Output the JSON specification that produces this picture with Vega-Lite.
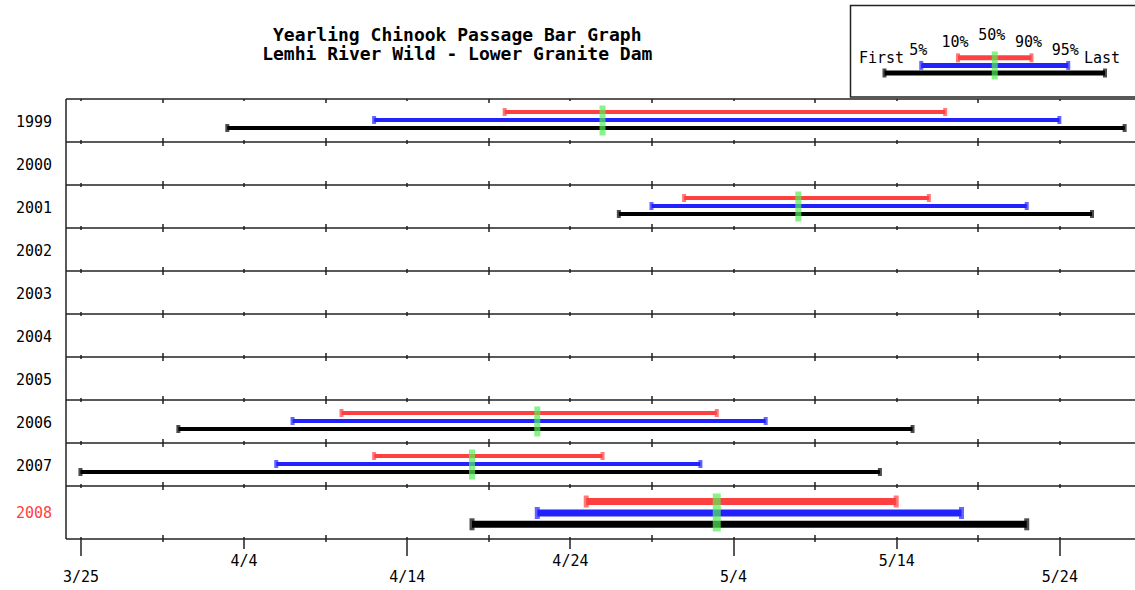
{
  "$schema": "https://vega.github.io/schema/vega-lite/v6.json",
  "padding": {"left": 14.5, "top": 4.5, "right": 0, "bottom": 0},
  "spacing": 0,
  "background": "white",
  "config": {
    "view": {"stroke": null},
    "font": "DejaVu Sans Mono",
    "axis": {"labelFont": "DejaVu Sans Mono", "labelFontSize": 15, "labelColor": "#000000", "domainColor": "#222222", "domainWidth": 1.5, "tickColor": "#222222", "tickWidth": 1.5, "gridColor": "#222222", "gridWidth": 1.5, "gridOpacity": 1, "labelFlush": false, "labelOverlap": false},
    "title": {"font": "DejaVu Sans Mono", "fontWeight": "bold", "fontSize": 18, "color": "#000000", "lineHeight": 19},
    "text": {"font": "DejaVu Sans Mono", "fontSize": 15}
  },
  "datasets": {
    "passage": [
      {"year": 1999, "first": "1999-04-03", "p5": "1999-04-12", "p10": "1999-04-20", "p50": "1999-04-26", "p90": "1999-05-17", "p95": "1999-05-24", "last": "1999-05-28"},
      {"year": 2001, "first": "2001-04-27", "p5": "2001-04-29", "p10": "2001-05-01", "p50": "2001-05-08", "p90": "2001-05-16", "p95": "2001-05-22", "last": "2001-05-26"},
      {"year": 2006, "first": "2006-03-31", "p5": "2006-04-07", "p10": "2006-04-10", "p50": "2006-04-22", "p90": "2006-05-03", "p95": "2006-05-06", "last": "2006-05-15"},
      {"year": 2007, "first": "2007-03-25", "p5": "2007-04-06", "p10": "2007-04-12", "p50": "2007-04-18", "p90": "2007-04-26", "p95": "2007-05-02", "last": "2007-05-13"},
      {"year": 2008, "first": "2008-04-18", "p5": "2008-04-22", "p10": "2008-04-25", "p50": "2008-05-03", "p90": "2008-05-14", "p95": "2008-05-18", "last": "2008-05-22"}
    ],
    "legendLabels": [
      {"label": "First", "level": "First-Last"},
      {"label": "5%", "level": "5-95"},
      {"label": "10%", "level": "10-90"},
      {"label": "50%", "level": "50"},
      {"label": "90%", "level": "10-90"},
      {"label": "95%", "level": "5-95"},
      {"label": "Last", "level": "First-Last"}
    ],
    "legendBars": [
      {"series": "First-Last", "from": "First", "to": "Last"},
      {"series": "5-95", "from": "5%", "to": "95%"},
      {"series": "10-90", "from": "10%", "to": "90%"}
    ]
  },
  "vconcat": [
    {
      "spacing": 0,
      "hconcat": [
        {
          "width": 783.5,
          "height": 20,
          "data": {"values": []},
          "mark": {"type": "point"},
          "encoding": {},
          "title": {"text": ["Yearling Chinook Passage Bar Graph", "Lemhi River Wild - Lower Granite Dam"], "orient": "bottom", "anchor": "middle", "offset": 1, "dx": 0}
        },
        {
          "width": 290,
          "height": 91.5,
          "view": {"stroke": "#222222", "strokeWidth": 1.5},
          "layer": [
            {
              "data": {"name": "legendBars"},
              "mark": {"type": "rule", "strokeWidth": 5},
              "encoding": {
                "x": {"field": "from", "type": "ordinal", "scale": {"type": "point", "domain": ["First", "5%", "10%", "50%", "90%", "95%", "Last"], "range": [34, 254.5], "padding": 0}, "axis": null},
                "x2": {"field": "to"},
                "y": {"field": "series", "type": "ordinal", "scale": {"type": "point", "domain": ["50", "10-90", "5-95", "First-Last"], "range": [44.75, 67.5], "padding": 0}, "axis": null},
                "color": {"field": "series", "type": "nominal", "scale": {"domain": ["First-Last", "5-95", "10-90"], "range": ["#000000", "#2222ff", "#ff4040"]}, "legend": null}
              }
            },
            {
              "data": {"name": "legendBars"},
              "mark": {"type": "tick", "orient": "vertical", "size": 9, "thickness": 4},
              "encoding": {
                "x": {"field": "from", "type": "ordinal"},
                "y": {"field": "series", "type": "ordinal"},
                "color": {"field": "series", "type": "nominal"}
              }
            },
            {
              "data": {"name": "legendBars"},
              "mark": {"type": "tick", "orient": "vertical", "size": 9, "thickness": 4},
              "encoding": {
                "x": {"field": "to", "type": "ordinal"},
                "y": {"field": "series", "type": "ordinal"},
                "color": {"field": "series", "type": "nominal"}
              }
            },
            {
              "data": {"name": "legendLabels"},
              "transform": [{"filter": "datum.label == '50%'"}],
              "mark": {"type": "tick", "orient": "vertical", "size": 28, "thickness": 6, "color": "#55ee55"},
              "encoding": {
                "x": {"field": "label", "type": "ordinal"},
                "y": {"datum": "5-95", "type": "ordinal"}
              }
            },
            {
              "data": {"name": "legendLabels"},
              "mark": {"type": "text", "dy": -15.5, "dx": -3, "font": "DejaVu Sans Mono", "fontSize": 15, "color": "#000000", "baseline": "middle", "align": "center"},
              "encoding": {
                "x": {"field": "label", "type": "ordinal"},
                "y": {"field": "level", "type": "ordinal"},
                "text": {"field": "label"}
              }
            }
          ]
        }
      ]
    },
    {
      "width": 1070,
      "height": 440,
      "data": {"name": "passage"},
      "layer": [
        {
          "transform": [{"filter": "datum.year < 2008"}],
          "mark": {"type": "rule", "color": "#000000", "strokeWidth": 4, "yOffset": 8},
          "encoding": {
            "x": {
              "field": "first", "type": "temporal", "timeUnit": "utcmonthdate", "bandPosition": 0,
              "scale": {"type": "utc", "domain": [{"year": 2012, "month": 3, "date": 24, "hours": 2, "utc": true}, {"year": 2012, "month": 5, "date": 28, "hours": 16, "utc": true}]},
              "axis": {
                "title": null,
                "values": [
                  {"year": 2012, "month": 3, "date": 25, "utc": true},
                  {"year": 2012, "month": 3, "date": 30, "utc": true},
                  {"year": 2012, "month": 4, "date": 4, "utc": true},
                  {"year": 2012, "month": 4, "date": 9, "utc": true},
                  {"year": 2012, "month": 4, "date": 14, "utc": true},
                  {"year": 2012, "month": 4, "date": 19, "utc": true},
                  {"year": 2012, "month": 4, "date": 24, "utc": true},
                  {"year": 2012, "month": 4, "date": 29, "utc": true},
                  {"year": 2012, "month": 5, "date": 4, "utc": true},
                  {"year": 2012, "month": 5, "date": 9, "utc": true},
                  {"year": 2012, "month": 5, "date": 14, "utc": true},
                  {"year": 2012, "month": 5, "date": 19, "utc": true},
                  {"year": 2012, "month": 5, "date": 24, "utc": true}
                ],
                "labelExpr": "indexof(['3/25','4/4','4/14','4/24','5/4','5/14','5/24'], utcFormat(datum.value, '%-m/%-d')) >= 0 ? utcFormat(datum.value, '%-m/%-d') : ''",
                "grid": true,
                "gridDash": {"condition": {"test": "indexof(['3/25','4/4','4/14','4/24','5/4','5/14','5/24'], utcFormat(datum.value, '%-m/%-d')) >= 0", "value": [2, 49, 4, 39, 4, 39, 4, 39, 4, 39, 4, 39, 4, 39, 4, 39, 4, 39, 4, 39, 2]}, "value": [4, 45, 8, 35, 8, 35, 8, 35, 8, 35, 8, 35, 8, 35, 8, 35, 8, 35, 8, 35, 4]},
                "tickSize": {"condition": [{"test": "indexof(['3/25','4/14','5/4','5/24'], utcFormat(datum.value, '%-m/%-d')) >= 0", "value": 17}, {"test": "indexof(['4/4','4/24','5/14'], utcFormat(datum.value, '%-m/%-d')) >= 0", "value": 10}], "value": 3},
                "labelPadding": {"condition": {"test": "indexof(['3/25','4/14','5/4','5/24'], utcFormat(datum.value, '%-m/%-d')) >= 0", "value": 13.7}, "value": 4.7},
                "labelBaseline": "top",
                "domain": true
              }
            },
            "x2": {"field": "last", "timeUnit": "utcmonthdate", "bandPosition": 0},
            "y": {
              "field": "year", "type": "quantitative",
              "scale": {"domain": [1998.5, 2007.5, 2008.5], "range": [0, 387, 440], "zero": false, "nice": false},
              "axis": {
                "title": null,
                "values": [1998.5, 1999.5, 2000.5, 2001.5, 2002.5, 2003.5, 2004.5, 2005.5, 2006.5, 2007.5],
                "labelExpr": "'' + (datum.value + 0.5)",
                "labelOffset": {"condition": {"test": "datum.value > 2007", "value": 27}, "value": 22.5},
                "labelColor": {"condition": {"test": "datum.value > 2007", "value": "#ff4040"}, "value": "#000000"},
                "labelBaseline": "middle",
                "labelPadding": 14,
                "ticks": false,
                "tickSize": 0,
                "grid": true,
                "domain": true
              }
            }
          }
        },
        {
          "transform": [{"filter": "datum.year < 2008"}],
          "mark": {"type": "tick", "orient": "vertical", "color": "#000000", "size": 8, "thickness": 4, "yOffset": 8},
          "encoding": {"x": {"field": "first", "type": "temporal", "timeUnit": "utcmonthdate", "bandPosition": 0}, "y": {"field": "year", "type": "quantitative"}}
        },
        {
          "transform": [{"filter": "datum.year < 2008"}],
          "mark": {"type": "tick", "orient": "vertical", "color": "#000000", "size": 8, "thickness": 4, "yOffset": 8},
          "encoding": {"x": {"field": "last", "type": "temporal", "timeUnit": "utcmonthdate", "bandPosition": 0}, "y": {"field": "year", "type": "quantitative"}}
        },
        {
          "transform": [{"filter": "datum.year < 2008"}],
          "mark": {"type": "rule", "color": "#2222ff", "strokeWidth": 4, "yOffset": 0},
          "encoding": {"x": {"field": "p5", "type": "temporal", "timeUnit": "utcmonthdate", "bandPosition": 0}, "x2": {"field": "p95", "timeUnit": "utcmonthdate", "bandPosition": 0}, "y": {"field": "year", "type": "quantitative"}}
        },
        {
          "transform": [{"filter": "datum.year < 2008"}],
          "mark": {"type": "tick", "orient": "vertical", "color": "#2222ff", "size": 8, "thickness": 4, "yOffset": 0},
          "encoding": {"x": {"field": "p5", "type": "temporal", "timeUnit": "utcmonthdate", "bandPosition": 0}, "y": {"field": "year", "type": "quantitative"}}
        },
        {
          "transform": [{"filter": "datum.year < 2008"}],
          "mark": {"type": "tick", "orient": "vertical", "color": "#2222ff", "size": 8, "thickness": 4, "yOffset": 0},
          "encoding": {"x": {"field": "p95", "type": "temporal", "timeUnit": "utcmonthdate", "bandPosition": 0}, "y": {"field": "year", "type": "quantitative"}}
        },
        {
          "transform": [{"filter": "datum.year < 2008"}],
          "mark": {"type": "rule", "color": "#ff4040", "strokeWidth": 4, "yOffset": -8},
          "encoding": {"x": {"field": "p10", "type": "temporal", "timeUnit": "utcmonthdate", "bandPosition": 0}, "x2": {"field": "p90", "timeUnit": "utcmonthdate", "bandPosition": 0}, "y": {"field": "year", "type": "quantitative"}}
        },
        {
          "transform": [{"filter": "datum.year < 2008"}],
          "mark": {"type": "tick", "orient": "vertical", "color": "#ff4040", "size": 8, "thickness": 4, "yOffset": -8},
          "encoding": {"x": {"field": "p10", "type": "temporal", "timeUnit": "utcmonthdate", "bandPosition": 0}, "y": {"field": "year", "type": "quantitative"}}
        },
        {
          "transform": [{"filter": "datum.year < 2008"}],
          "mark": {"type": "tick", "orient": "vertical", "color": "#ff4040", "size": 8, "thickness": 4, "yOffset": -8},
          "encoding": {"x": {"field": "p90", "type": "temporal", "timeUnit": "utcmonthdate", "bandPosition": 0}, "y": {"field": "year", "type": "quantitative"}}
        },
        {
          "transform": [{"filter": "datum.year < 2008"}],
          "mark": {"type": "tick", "orient": "vertical", "color": "#55ee55", "size": 30, "thickness": 6, "yOffset": 0.5},
          "encoding": {"x": {"field": "p50", "type": "temporal", "timeUnit": "utcmonthdate", "bandPosition": 0}, "y": {"field": "year", "type": "quantitative"}}
        },
        {
          "transform": [{"filter": "datum.year == 2008"}],
          "mark": {"type": "rule", "color": "#000000", "strokeWidth": 7, "yOffset": 12.3},
          "encoding": {"x": {"field": "first", "type": "temporal", "timeUnit": "utcmonthdate", "bandPosition": 0}, "x2": {"field": "last", "timeUnit": "utcmonthdate", "bandPosition": 0}, "y": {"field": "year", "type": "quantitative"}}
        },
        {
          "transform": [{"filter": "datum.year == 2008"}],
          "mark": {"type": "tick", "orient": "vertical", "color": "#000000", "size": 12, "thickness": 5, "yOffset": 12.3},
          "encoding": {"x": {"field": "first", "type": "temporal", "timeUnit": "utcmonthdate", "bandPosition": 0}, "y": {"field": "year", "type": "quantitative"}}
        },
        {
          "transform": [{"filter": "datum.year == 2008"}],
          "mark": {"type": "tick", "orient": "vertical", "color": "#000000", "size": 12, "thickness": 5, "yOffset": 12.3},
          "encoding": {"x": {"field": "last", "type": "temporal", "timeUnit": "utcmonthdate", "bandPosition": 0}, "y": {"field": "year", "type": "quantitative"}}
        },
        {
          "transform": [{"filter": "datum.year == 2008"}],
          "mark": {"type": "rule", "color": "#2222ff", "strokeWidth": 7, "yOffset": 1},
          "encoding": {"x": {"field": "p5", "type": "temporal", "timeUnit": "utcmonthdate", "bandPosition": 0}, "x2": {"field": "p95", "timeUnit": "utcmonthdate", "bandPosition": 0}, "y": {"field": "year", "type": "quantitative"}}
        },
        {
          "transform": [{"filter": "datum.year == 2008"}],
          "mark": {"type": "tick", "orient": "vertical", "color": "#2222ff", "size": 12, "thickness": 5, "yOffset": 1},
          "encoding": {"x": {"field": "p5", "type": "temporal", "timeUnit": "utcmonthdate", "bandPosition": 0}, "y": {"field": "year", "type": "quantitative"}}
        },
        {
          "transform": [{"filter": "datum.year == 2008"}],
          "mark": {"type": "tick", "orient": "vertical", "color": "#2222ff", "size": 12, "thickness": 5, "yOffset": 1},
          "encoding": {"x": {"field": "p95", "type": "temporal", "timeUnit": "utcmonthdate", "bandPosition": 0}, "y": {"field": "year", "type": "quantitative"}}
        },
        {
          "transform": [{"filter": "datum.year == 2008"}],
          "mark": {"type": "rule", "color": "#ff4040", "strokeWidth": 7, "yOffset": -10.5},
          "encoding": {"x": {"field": "p10", "type": "temporal", "timeUnit": "utcmonthdate", "bandPosition": 0}, "x2": {"field": "p90", "timeUnit": "utcmonthdate", "bandPosition": 0}, "y": {"field": "year", "type": "quantitative"}}
        },
        {
          "transform": [{"filter": "datum.year == 2008"}],
          "mark": {"type": "tick", "orient": "vertical", "color": "#ff4040", "size": 12, "thickness": 5, "yOffset": -10.5},
          "encoding": {"x": {"field": "p10", "type": "temporal", "timeUnit": "utcmonthdate", "bandPosition": 0}, "y": {"field": "year", "type": "quantitative"}}
        },
        {
          "transform": [{"filter": "datum.year == 2008"}],
          "mark": {"type": "tick", "orient": "vertical", "color": "#ff4040", "size": 12, "thickness": 5, "yOffset": -10.5},
          "encoding": {"x": {"field": "p90", "type": "temporal", "timeUnit": "utcmonthdate", "bandPosition": 0}, "y": {"field": "year", "type": "quantitative"}}
        },
        {
          "transform": [{"filter": "datum.year == 2008"}],
          "mark": {"type": "tick", "orient": "vertical", "color": "#55ee55", "size": 38, "thickness": 8, "yOffset": 0.5},
          "encoding": {"x": {"field": "p50", "type": "temporal", "timeUnit": "utcmonthdate", "bandPosition": 0}, "y": {"field": "year", "type": "quantitative"}}
        }
      ]
    }
  ]
}
